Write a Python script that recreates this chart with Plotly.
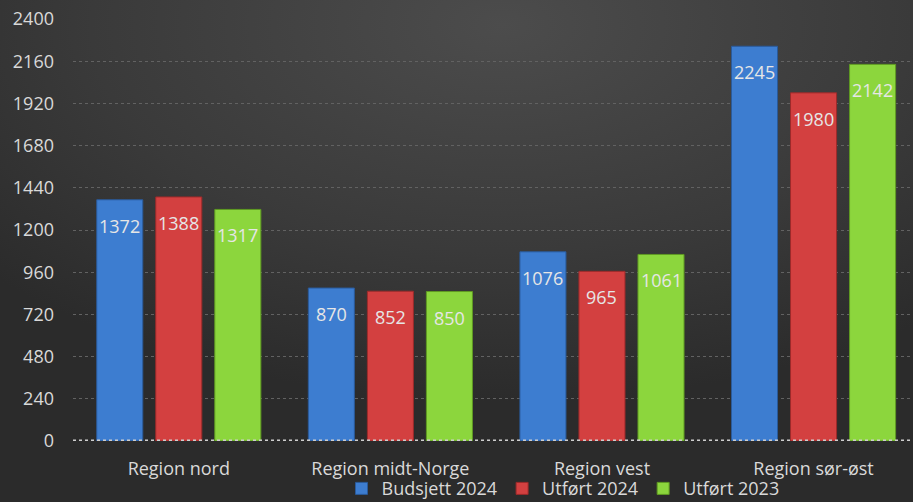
import base64
import plotly.graph_objects as go

categories = ["Region nord", "Region midt-Norge", "Region vest", "Region sør-øst"]
budsjett_2024 = [1372, 870, 1076, 2245]
utfort_2024 = [1388, 852, 965, 1980]
utfort_2023 = [1317, 850, 1061, 2142]
y_ticks = [0, 240, 480, 720, 960, 1200, 1440, 1680, 1920, 2160, 2400]

series = [
    ("Budsjett 2024", budsjett_2024, "#3d7dd0", "#2a5a9a"),
    ("Utført 2024", utfort_2024, "#d34040", "#9c2a2a"),
    ("Utført 2023", utfort_2023, "#8cd63d", "#5f9a22"),
]

font_family = "Open Sans, Noto Sans, sans-serif"
W, H = 913, 502
ML, MR, MT, MB = 73, 0, 19, 61
PW, PH = W - ML - MR, H - MT - MB

svg = f'''<svg xmlns="http://www.w3.org/2000/svg" width="{W}" height="{H}">
<defs><radialGradient id="g" cx="0.55" cy="0.05" r="0.75" gradientUnits="objectBoundingBox">
<stop offset="0" stop-color="#4c4c4c"/><stop offset="0.6" stop-color="#3a3a3a"/><stop offset="1" stop-color="#2b2b2b"/>
</radialGradient></defs>
<rect width="{W}" height="{H}" fill="url(#g)"/></svg>'''
bg_src = "data:image/svg+xml;base64," + base64.b64encode(svg.encode()).decode()

bargap, bargroupgap = 0.163, 0.22
x_range = [-0.5, 3.47]
px_per_cat = PW / (x_range[1] - x_range[0])
slot_px = (1 - bargap) / len(series) * px_per_cat

fig = go.Figure()
annotations = []
for i, (name, vals, col, edge) in enumerate(series):
    fig.add_trace(go.Bar(
        x=categories, y=vals, name=name,
        marker=dict(color=col, line=dict(color=edge, width=1)),
        hoverinfo="skip",
    ))
    for cat, v in zip(categories, vals):
        annotations.append(dict(
            x=cat, y=v, xref="x", yref="y", text=str(v), showarrow=False,
            xshift=(i - 1) * slot_px, yshift=-26,
            font=dict(color="#e6e6e6", size=18, family=font_family),
        ))

fig.update_layout(
    width=W, height=H,
    barmode="group", bargap=bargap, bargroupgap=bargroupgap,
    paper_bgcolor="#333333", plot_bgcolor="rgba(0,0,0,0)",
    margin=dict(l=ML, r=MR, t=MT, b=MB, autoexpand=False),
    font=dict(family=font_family, color="#d9d9d9", size=18),
    xaxis=dict(
        range=x_range, showgrid=False, ticks="", showline=False, automargin=False,
        tickfont=dict(size=18, color="#d9d9d9"), ticklabelstandoff=15,
    ),
    yaxis=dict(
        range=[0, 2400], tickvals=y_ticks, ticktext=[str(t) for t in y_ticks],
        showgrid=True, gridcolor="#626262", griddash="dot", gridwidth=1,
        zeroline=False, ticks="", tickfont=dict(size=18, color="#d9d9d9"),
        ticklabelstandoff=18, automargin=False,
    ),
    showlegend=True,
    legend=dict(
        orientation="h", x=0.5 + 70 / PW, xanchor="center", y=-0.113, yanchor="middle",
        font=dict(size=18, color="#d9d9d9"), bgcolor="rgba(0,0,0,0)",
        itemwidth=30, traceorder="normal",
    ),
    annotations=annotations,
    images=[dict(source=bg_src, xref="paper", yref="paper",
                 x=-ML / PW, y=1 + MT / PH, sizex=W / PW, sizey=H / PH,
                 xanchor="left", yanchor="top", sizing="stretch", layer="below")],
    shapes=[dict(type="line", xref="paper", yref="y", x0=0, x1=1, y0=0, y1=0,
                 line=dict(color="#cfcfcf", width=3, dash="dot"), layer="above")],
)

fig.write_html(
    "out.html",
    config={"displayModeBar": False},
    post_script="document.body.style.margin='0';document.body.style.overflow='hidden';",
)
